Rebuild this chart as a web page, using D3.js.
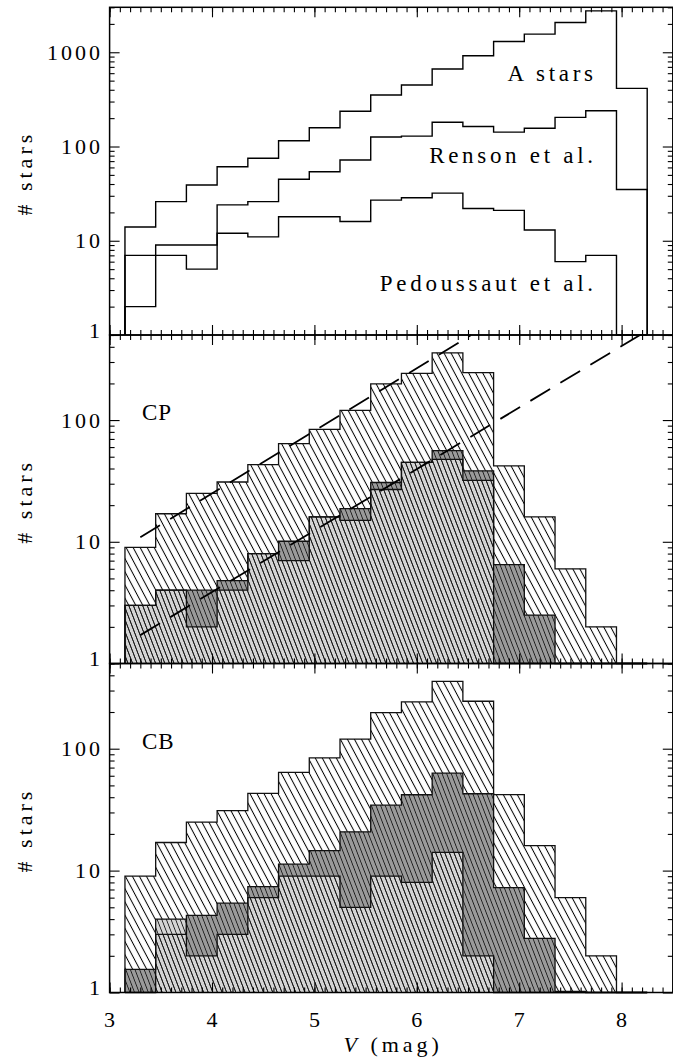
<!DOCTYPE html>
<html><head><meta charset="utf-8">
<script src="https://cdn.jsdelivr.net/npm/d3@7"></script>
<style>
html,body{margin:0;padding:0;background:#fff;}
svg{display:block;}
</style></head><body>
<svg id="chart" width="673" height="1059"></svg>
<script>
// ---------- DATA ----------
const binEdges = [3.15,3.45,3.75,4.05,4.35,4.65,4.95,5.25,5.55,5.85,6.15,6.45,6.75,7.05,7.35,7.65,7.95,8.25];
// top panel
const aStars     = [14,26,39,61,75,115,158,237,352,450,664,918,1302,1557,2069,2750,414];
const renson     = [2,9,9,24,26,45,54,72,126,129,181,163,142,156,204,240,35];
const pedoussaut = [7,7,5,12,11,18,18,16,27,28.6,32,22,21,13,6,7,0];
// middle & bottom panels: total sample
const totalCount = [9,17,25,31,43,64,84,120,198,242,357,245,42,16,6,2,0];
// CP panel
const cpDark  = [3,4,4,4.8,8,10.1,16,18.7,30.7,45,56,38.3,6.5,2.5,0,0,0];
const cpLight = [3,4,2,4,8,7,16,15,26.9,45,47.5,31.9,0,0,0,0,0];
// CB panel
const cbDark  = [1.55,3,4.3,5.4,7.4,11.3,14.6,20.8,34.4,41.9,63,42.7,7.25,2.78,1.02,0,0];
const cbLight = [0,4,2,3,6,9,9,5,9,8,14.1,2,0,0,0,0,0];
// dashed reference lines in CP panel: [V, N] endpoints
const fitUpper = [[3.30,10.9],[6.53,500]];
const fitLower = [[3.30,1.71],[8.18,500]];
// labels
const xTickLabels = ["3","4","5","6","7","8"];
const xTickValues = [3,4,5,6,7,8];
const topTickValues = [1,10,100,1000];
const lowTickValues = [1,10,100];
const seriesLabels = ["A stars","Renson et al.","Pedoussaut et al."];

// ---------- LAYOUT ----------
const FONT = "'Liberation Serif', 'Times New Roman', 'DejaVu Serif', serif";
const svg = d3.select("#chart");
const x = d3.scaleLinear().domain([3,8.5]).range([109.6,672.8]);
const panels = [
  {y: d3.scaleLog().domain([1,3000]).range([335,7.3]), ticks: topTickValues},
  {y: d3.scaleLog().domain([1,500]).range([663.5,335]), ticks: lowTickValues},
  {y: d3.scaleLog().domain([1,500]).range([992.5,663.5]), ticks: lowTickValues}
];
function txt(sel){ return sel.append("text").attr("font-family",FONT).attr("fill","#000"); }

// patterns
const defs = svg.append("defs");
function hatch(id, spacing, angle, color, w){
  const p = defs.append("pattern").attr("id",id).attr("patternUnits","userSpaceOnUse")
    .attr("width",spacing).attr("height",spacing)
    .attr("patternTransform",`rotate(${angle})`);
  p.append("line").attr("x1",spacing/2).attr("x2",spacing/2).attr("y1",-1).attr("y2",spacing+1)
    .attr("stroke",color).attr("stroke-width",w);
}
hatch("hWhite",6.2,-28,"#000",1.0);
hatch("hGray",4.3,-21,"#1a1a1a",0.85);

function stepPoints(vals, y){
  const base = y(1);
  const yy = v => v > 1 ? y(v) : base;
  const pts = [[x(binEdges[0]), base]];
  vals.forEach((v,i)=>{ pts.push([x(binEdges[i]), yy(v)]); pts.push([x(binEdges[i+1]), yy(v)]); });
  pts.push([x(binEdges[vals.length]), base]);
  return pts;
}
const line = d3.line();

// ---------- TOP PANEL ----------
{
  const y = panels[0].y;
  [aStars, renson, pedoussaut].forEach(s=>{
    svg.append("path").attr("d", line(stepPoints(s,y))).attr("fill","none")
      .attr("stroke","#000").attr("stroke-width",1.4);
  });
  const lab = [[593,81],[593,162.5],[593,291]];
  seriesLabels.forEach((t,i)=>{
    txt(svg).attr("x",lab[i][0]+3.7).attr("y",lab[i][1]).attr("text-anchor","end")
      .style("font-size","23px").style("letter-spacing","3.7px").text(t);
  });
}

// ---------- CP / CB PANELS ----------
function groupPanel(p, dark, light, name){
  const y = p.y;
  const tot = stepPoints(totalCount,y), dk = stepPoints(dark,y), lt = stepPoints(light,y);
  svg.append("path").attr("d",line(tot)+"Z").attr("fill","#fff");
  svg.append("path").attr("d",line(tot)+"Z").attr("fill","url(#hWhite)");
  svg.append("path").attr("d",line(dk)+"Z").attr("fill","#9a9a9a");
  svg.append("path").attr("d",line(lt)+"Z").attr("fill","#d4d4d4");
  svg.append("path").attr("d",line(dk)+"Z").attr("fill","url(#hGray)");
  svg.append("path").attr("d",line(lt)+"Z").attr("fill","url(#hGray)");
  [tot, dk, lt].forEach(pts=>{
    svg.append("path").attr("d",line(pts)).attr("fill","none").attr("stroke","#111").attr("stroke-width",1.3);
  });
  txt(svg).attr("x",142).attr("y",y(100)).style("font-size","23px")
    .style("letter-spacing","1px").text(name);
}
groupPanel(panels[1], cpDark, cpLight, "CP");
groupPanel(panels[2], cbDark, cbLight, "CB");

// dashed lines
[fitUpper, fitLower].forEach(f=>{
  svg.append("path").attr("d", line(f.map(d=>[x(d[0]), panels[1].y(d[1])])))
    .attr("fill","none").attr("stroke","#000").attr("stroke-width",1.8)
    .attr("stroke-dasharray","23,12");
});

// ---------- AXES ----------
const minorX = d3.range(30,86).map(d=>d/10);
panels.forEach((p,pi)=>{
  const y = p.y;
  const [y0,y1] = y.range(); // bottom, top
  const [x0,x1] = x.range();
  const g = svg.append("g");
  const axB = g.append("g").attr("transform",`translate(0,${y0})`);
  axB.call(d3.axisTop(x).tickValues(minorX).tickSize(5).tickFormat(""));
  axB.call(g2=>g2.append("g").call(d3.axisTop(x).tickValues(xTickValues).tickSize(10).tickFormat("")));
  const axT = g.append("g").attr("transform",`translate(0,${y1})`);
  axT.call(d3.axisBottom(x).tickValues(minorX).tickSize(5).tickFormat(""));
  axT.call(g2=>g2.append("g").call(d3.axisBottom(x).tickValues(xTickValues).tickSize(10).tickFormat("")));
  const dmax = y.domain()[1];
  const minorY = [];
  for (let d=1; d<dmax; d*=10) for (let k=2;k<=9;k++) if (k*d<=dmax*1.0001) minorY.push(k*d);
  const axL = g.append("g").attr("transform",`translate(${x0},0)`);
  axL.call(d3.axisRight(y).tickValues(minorY).tickSize(5).tickFormat(""));
  axL.call(g2=>g2.append("g").call(d3.axisRight(y).tickValues(p.ticks).tickSize(10).tickFormat("")));
  const axR = g.append("g").attr("transform",`translate(${x1},0)`);
  axR.call(d3.axisLeft(y).tickValues(minorY).tickSize(5).tickFormat(""));
  axR.call(g2=>g2.append("g").call(d3.axisLeft(y).tickValues(p.ticks).tickSize(10).tickFormat("")));
  g.selectAll(".domain").remove();
  g.selectAll(".tick line").attr("stroke","#000").attr("stroke-width",1.1);
  g.append("rect").attr("x",x0).attr("y",y1).attr("width",x1-x0).attr("height",y0-y1)
    .attr("fill","none").attr("stroke","#000").attr("stroke-width",1.5);
  p.ticks.forEach(v=>{
    txt(svg).attr("x",100+3).attr("y",y(v) - (v===1?5:0)).attr("dy","0.35em")
      .attr("text-anchor","end").style("font-size","22px").style("letter-spacing","3px").text(String(v));
  });
  const cy = (y0+y1)/2;
  txt(svg).attr("transform",`translate(31.5,${cy+2}) rotate(-90)`).attr("text-anchor","middle")
    .style("font-size","22px").style("letter-spacing","4px").text("# stars");
});

xTickValues.forEach((v,i)=>{
  txt(svg).attr("x",x(v)).attr("y",1026.5).attr("text-anchor","middle")
    .style("font-size","22px").text(xTickLabels[i]);
});
const xt = txt(svg).attr("x",(x.range()[0]+x.range()[1])/2+2).attr("y",1052)
  .attr("text-anchor","middle").style("font-size","22px").style("letter-spacing","4px");
xt.append("tspan").style("font-style","italic").text("V");
xt.append("tspan").text(" (mag)");
</script>
</body></html>
